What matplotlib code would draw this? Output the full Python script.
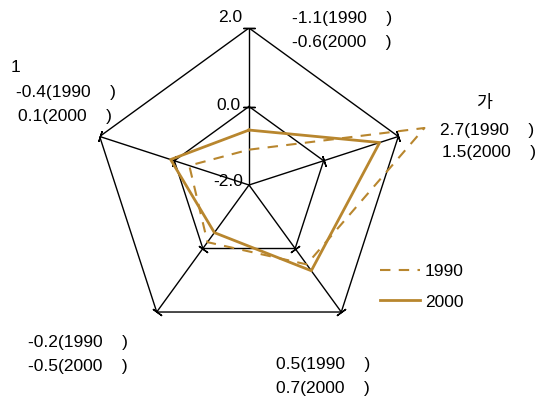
import numpy as np
import matplotlib
matplotlib.use("Agg")
import matplotlib.pyplot as plt

W, H = 542, 405
plt.rcParams['font.family'] = ['Liberation Sans Narrow', 'Liberation Sans', 'Noto Sans CJK KR', 'DejaVu Sans']

# ---- data ----
axis_names = ["", "가", "", "", "1"]
v1990 = [-1.1, 2.7, 0.5, -0.2, -0.4]
v2000 = [-0.6, 1.5, 0.7, -0.5, 0.1]
series_names = ["1990", "2000"]
scale_ticks = [2.0, 0.0, -2.0]
rmin, rmax = -2.0, 2.0

color = "#B8862E"

fig = plt.figure(figsize=(W / 100, H / 100), dpi=100)
cx, cy, R = 249, 185, 157
ax = fig.add_axes([(cx - R) / W, (H - cy - R) / H, 2 * R / W, 2 * R / H], projection="polar")
ax.set_theta_offset(np.pi / 2)
ax.set_theta_direction(-1)
ax.set_ylim(rmin, rmax)
ax.grid(False)
ax.set_xticks([])
ax.set_yticks([])
ax.spines["polar"].set_visible(False)
ax.patch.set_alpha(0)

n = len(v1990)
theta = np.arange(n) * 2 * np.pi / n
theta_c = np.append(theta, theta[0])

# grid pentagons
for r in [2.0, 0.0]:
    ax.plot(theta_c, [r] * (n + 1), color="black", lw=1.0, zorder=1)
# spokes
for t in theta:
    ax.plot([t, t], [rmin, rmax], color="black", lw=1.0, zorder=1)
# tick marks at vertices
for t in theta:
    ang = 90 - np.degrees(t)  # spoke direction on screen (deg from east)
    for r in [2.0, 0.0]:
        ax.plot([t], [r], marker=(2, 2, ang), ms=8, mew=1.0, color="black",
                zorder=2, clip_on=False)

# series
ax.plot(theta_c, np.append(v1990, v1990[0]), color=color, lw=1.5, ls=(0, (5, 4)),
        label=series_names[0], zorder=3, clip_on=False)
ax.plot(theta_c, np.append(v2000, v2000[0]), color=color, lw=2.0,
        label=series_names[1], zorder=4, clip_on=False)

fs = 12.5

def ftext(x, y, s, **kw):
    fig.text(x / W, 1 - y / H, s, fontsize=fs, va="center", **kw)

# scale labels
ftext(242, 17, "2.0", ha="right")
ftext(241, 106, "0.0", ha="right")
ftext(243, 182, "-2.0", ha="right")

sp = "    "
def lab(v, i):
    return f"{v}({series_names[i]}{sp})"

# value labels
ftext(342, 18, lab(v1990[0], 0), ha="center")
ftext(342, 42, lab(v2000[0], 1), ha="center")

ftext(484, 103, axis_names[1], ha="center")
ftext(487, 130, lab(v1990[1], 0), ha="center")
ftext(489, 153, lab(v2000[1], 1), ha="center")

ftext(323, 365, lab(v1990[2], 0), ha="center")
ftext(323, 388, lab(v2000[2], 1), ha="center")

ftext(78, 342, lab(v1990[3], 0), ha="center")
ftext(78, 366, lab(v2000[3], 1), ha="center")

ftext(15, 68, axis_names[4], ha="center")
ftext(66, 92, lab(v1990[4], 0), ha="center")
ftext(65, 116, lab(v2000[4], 1), ha="center")

leg = fig.legend(loc="upper left", bbox_to_anchor=(364 / W, 1 - 248 / H), frameon=False,
                 fontsize=fs, handlelength=2.3, handletextpad=0.3, labelspacing=0.9)

fig.savefig("out.png", dpi=100)
